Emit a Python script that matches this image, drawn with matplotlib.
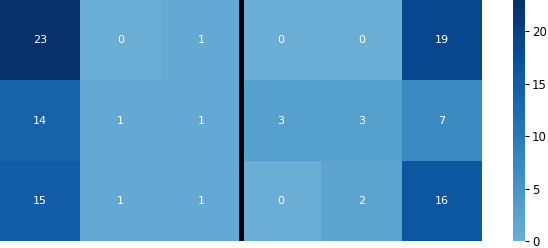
import numpy as np
import matplotlib
matplotlib.use("Agg")
import matplotlib.pyplot as plt
import seaborn as sns

# counts per cell (rows top to bottom)
row1 = [23, 0, 1, 0, 0, 19]
row2 = [14, 1, 1, 3, 3, 7]
row3 = [15, 1, 1, 0, 2, 16]
data = np.array([row1, row2, row3])

fig = plt.figure(figsize=(5.48, 2.48), dpi=100)
ax = fig.add_axes([0.0, 0.028, 482 / 548, 0.972])
cax = fig.add_axes([513 / 548, 0.028, 12 / 548, 0.972])

sns.heatmap(data, cmap="Blues", center=0, annot=True, fmt="d",
            xticklabels=False, yticklabels=False, ax=ax, cbar_ax=cax,
            annot_kws={"size": 8})

# separator between the two groups
ax.axvline(3, color="black", linewidth=3.5)

cax.tick_params(labelsize=8.5, length=3, pad=2)
cax.set_yticks([0, 5, 10, 15, 20])

fig.savefig("out.png", dpi=100)
